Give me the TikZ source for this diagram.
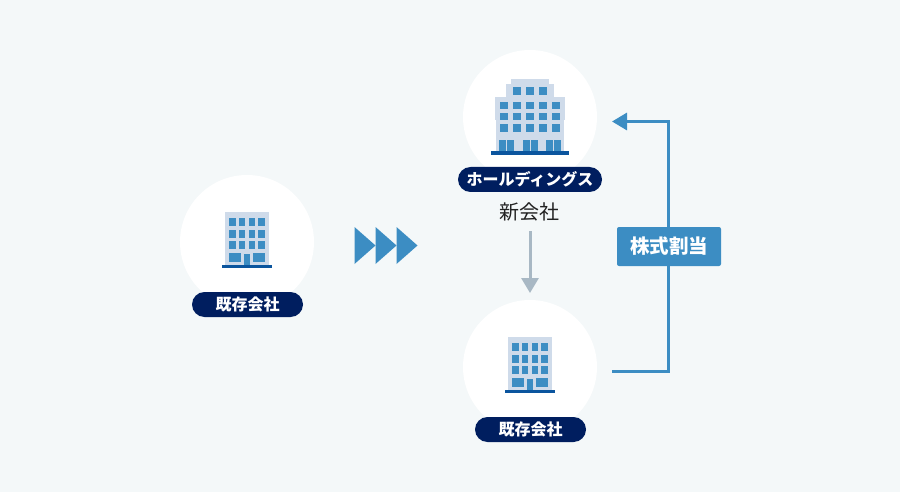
\documentclass[tikz,border=0pt]{standalone}
\usepackage{fontspec}
\setmainfont{Noto Sans CJK JP}
\usetikzlibrary{shapes.misc,shapes.geometric,arrows.meta}
\definecolor{bgc}{HTML}{F4F8F9}
\definecolor{navy}{HTML}{001E5F}
\definecolor{blu}{HTML}{3C8DC3}
\definecolor{bldg}{HTML}{CFDBEA}
\definecolor{basec}{HTML}{0B559E}
\definecolor{grayc}{HTML}{A8B8C4}
\definecolor{inkc}{HTML}{222222}
\tikzset{
  x=1pt,y=-1pt,
  disc/.style={circle,fill=white,minimum size=134pt,inner sep=0pt},
  pill/.style={rounded rectangle,fill=navy,text=white,font=\fontsize{16}{16}\selectfont\bfseries,minimum height=25pt,inner sep=0pt},
  shareflow/.style={draw=blu,line width=3pt,-{Triangle[length=15pt,width=17pt]}},
  newco/.style={draw=grayc,line width=3pt,-{Triangle[length=15pt,width=17pt]},shorten >=0pt},
  tri/.style={isosceles triangle,isosceles triangle apex angle=58,isosceles triangle stretches,fill=blu,inner sep=0pt,minimum width=37pt,minimum height=21pt,anchor=west},
  tag/.style={fill=blu,text=white,rounded corners=2pt,minimum width=104pt,minimum height=39pt,inner sep=0pt,font=\fontsize{19.5}{19.5}\selectfont\bfseries},
  win/.style={fill=blu},
  bwall/.style={fill=bldg},
  bfoot/.style={fill=basec},
  small building/.pic={
    \fill[bwall] (225,212) rectangle (269,265);
    \foreach \xa in {229,238.8,248.5,258.2}
      \foreach \ya in {218.4,229.8,241.2}
        \fill[win] (\xa,\ya) rectangle +(6.6,8);
    \fill[win] (229.3,253) rectangle (241,262);
    \fill[win] (253,253) rectangle (264.7,262);
    \fill[win] (243.7,254) rectangle (250.3,265);
    \fill[bfoot] (222,265) rectangle (272,267.5);
  },
  large building/.pic={
    \fill[bwall] (511,79) rectangle (549,90);
    \fill[bwall] (506,84) rectangle (554,100);
    \fill[bwall] (495,97) rectangle (565,120);
    \fill[bwall] (496,120) rectangle (564,151);
    \foreach \xa in {513,526,539}
      \fill[win] (\xa,87.3) rectangle +(8.2,7.4);
    \foreach \xa in {500,513,526,539,551.7}
      \foreach \ya in {101.7,113,124.3}
        \fill[win] (\xa,\ya) rectangle +(8.2,7.4);
    \foreach \xa in {498.7,522.7,546}{
      \fill[win] (\xa,140) rectangle +(7,11);
      \fill[win] (\xa+8,140) rectangle +(7,11);
    }
    \fill[bfoot] (491.3,151) rectangle (568.7,155);
  },
}
\begin{document}
\begin{tikzpicture}
  \fill[bgc] (0,0) rectangle (900,492);
  \useasboundingbox (0,0) rectangle (900,492);

  \node[disc] (discA) at (247,242) {};
  \node[disc] (discB) at (530,117) {};
  \node[disc] (discC) at (530,367) {};

  \pic {small building};
  \pic at (283,125) {small building};
  \pic {large building};

  \node[pill,minimum width=111pt] (pillA) at (247.5,304.5) {既存会社};
  \node[pill,minimum width=144pt] (pillB) at (530,179.5) {ホールディングス};
  \node[pill,minimum width=111pt] (pillC) at (530.5,429.5) {既存会社};

  \node[font=\fontsize{20}{20}\selectfont,text=inkc,inner sep=0pt] (newcoLabel) at (529.5,212) {新会社};

  \node[tri] (triA) at (354.3,245.5) {};
  \node[tri] (triB) at (375.3,245.5) {};
  \node[tri] (triC) at (396.3,245.5) {};

  \coordinate (newcoStart) at (530,231);
  \coordinate (newcoEnd) at (530,293);
  \draw[newco] (newcoStart) -- (newcoEnd);

  \coordinate (shareStart) at (612,371.5);
  \coordinate (shareCorner) at (668,371.5);
  \coordinate (shareTurn) at (668,121.5);
  \coordinate (shareEnd) at (612,121.5);
  \draw[shareflow] (shareStart) -- (shareCorner) -- (shareTurn) -- (shareEnd);

  \node[tag] (shareTag) at (669,246.5) {株式割当};
\end{tikzpicture}
\end{document}
